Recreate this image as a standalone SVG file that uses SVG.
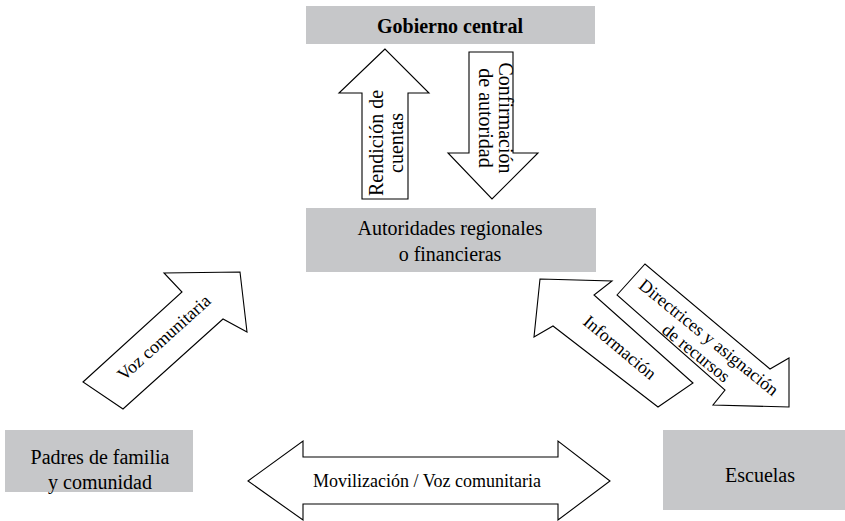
<svg xmlns="http://www.w3.org/2000/svg" width="845" height="521" viewBox="0 0 845 521">
<style>
.box{fill:#c6c7c9;stroke:none}
.arr{fill:#ffffff;stroke:#000000;stroke-width:1.1;stroke-linejoin:miter}
text{font-family:"Liberation Serif","Times New Roman",serif;fill:#000000}
.n{font-size:20px;text-anchor:middle}
.b{font-weight:bold}
.a{font-size:20px;text-anchor:middle}
.d{font-size:18px;text-anchor:middle}
</style>
<rect width="845" height="521" fill="#ffffff"/>
<g id="gobierno">
<rect class="box" x="306" y="6" width="289" height="38"/>
<text class="n b" x="450" y="33">Gobierno central</text>
</g>
<g id="autoridades">
<rect class="box" x="306" y="208" width="290" height="64"/>
<text class="n" x="450" y="235">Autoridades regionales</text>
<text class="n" x="450" y="261">o financieras</text>
</g>
<g id="padres">
<rect class="box" x="5" y="430" width="188" height="62"/>
<text class="n" x="100" y="464">Padres de familia</text>
<text class="n" x="100" y="489">y comunidad</text>
</g>
<g id="escuelas">
<rect class="box" x="663" y="430" width="195" height="80"/>
<text class="n" x="760" y="482">Escuelas</text>
</g>
<g id="connectors">
<g id="rendicion">
<polygon class="arr" points="385,49 339,93 362,93 362,199 408,199 408,93 429,93"/>
<g transform="translate(383,143) rotate(-90)">
<text class="a" x="0" y="0">Rendición de</text>
<text class="a" x="0" y="20">cuentas</text>
</g>
</g>
<g id="confirmacion">
<polygon class="arr" points="469,52 513,52 513,153 538,153 492,199 448,153 469,153"/>
<g transform="translate(499,118) rotate(90)">
<text class="a" x="0" y="0">Confirmación</text>
<text class="a" x="0" y="20">de autoridad</text>
</g>
</g>
<g id="voz">
<polygon class="arr" points="83,382 182,292 164,273 240,272 247,332 223,319 123,409"/>
<text class="d" transform="translate(168,342) rotate(-42)">Voz comunitaria</text>
</g>
<g id="informacion">
<polygon class="arr" points="540,279 612,281 594,295 693,383 658,407 553,326 534,337"/>
<text class="d" transform="translate(616,352) rotate(40)">Información</text>
</g>
<g id="directrices">
<polygon class="arr" points="617,295 645,264 770,369 789,358 789,407 713,405 725,390"/>
<g transform="translate(705,342) rotate(39)">
<text class="d" x="0" y="0">Directrices y asignación</text>
<text class="d" x="0" y="20">de recursos</text>
</g>
</g>
<g id="movilizacion">
<polygon class="arr" points="248,481 303,441 303,457 558,457 558,441 610,481 558,520 558,504 303,504 303,520"/>
<text class="d" x="427" y="487">Movilización / Voz comunitaria</text>
</g>
</g>
</svg>
